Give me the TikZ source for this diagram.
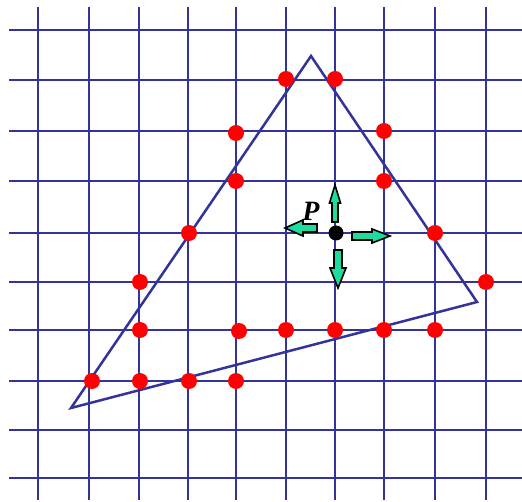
\documentclass[tikz,border=0pt]{standalone}
\usepackage{fontspec}
\setmainfont{Liberation Serif}
\definecolor{gridblue}{HTML}{333399}
\definecolor{arrgreen}{HTML}{1CDCA0}
\begin{document}
\begin{tikzpicture}[x=1pt,y=-1pt,
  gridline/.style={gridblue,line width=2.8pt},
  triline/.style={gridblue,line width=2.5pt,line join=miter},
  reddot/.style={circle,fill=red,inner sep=0pt,minimum size=16pt},
  blackdot/.style={circle,fill=black,inner sep=0pt,minimum size=15pt},
  blockarrow/.style={fill=arrgreen,draw=black,line width=1.6pt,line join=miter}]
\useasboundingbox (0,0) rectangle (522,502);
% grid
\foreach \x in {38,89,139,188,236,286,335,384,435,486}
  \draw[gridline] (\x,7) -- (\x,500);
\foreach \y in {30,80,131,181,233,282,330,381,430,478}
  \draw[gridline] (9,\y) -- (522,\y);
% triangle
\coordinate (A) at (311,56);
\coordinate (B) at (71,408);
\coordinate (C) at (477,302);
\draw[triline] (A) -- (B) -- (C) -- cycle;
% red dots
\foreach \n/\x/\y in {d1/286/79, d2/335/79, d3/236/133, d4/384/131, d5/236/181, d6/384/181,
  d7/189/233, d8/435/233, d9/140/282, d10/486/282, d11/140/330, d12/239/331, d13/286/330,
  d14/335/330, d15/384/330, d16/435/330, d17/92/381, d18/140/381, d19/189/381, d20/236/381}
  \node[reddot] (\n) at (\x,\y) {};
% point P
\node[blackdot] (P) at (336,233) {};
\node[font=\bfseries\itshape\fontsize{28}{28}\selectfont] (Plabel) at (311,211) {P};
% arrows
\draw[blockarrow] (332,222) -- (332,203) -- (329.5,203) -- (335,185) -- (340.5,203) -- (338,203) -- (338,222) -- cycle;
\draw[blockarrow] (317,224) -- (303,224) -- (303,220) -- (285,228) -- (303,236) -- (303,232) -- (317,232) -- cycle;
\draw[blockarrow] (352,232) -- (372,232) -- (372,229) -- (390,236) -- (372,243) -- (372,240) -- (352,240) -- cycle;
\draw[blockarrow] (334,250) -- (334,268) -- (330,268) -- (338,288) -- (346,268) -- (342,268) -- (342,250) -- cycle;
\end{tikzpicture}
\end{document}
